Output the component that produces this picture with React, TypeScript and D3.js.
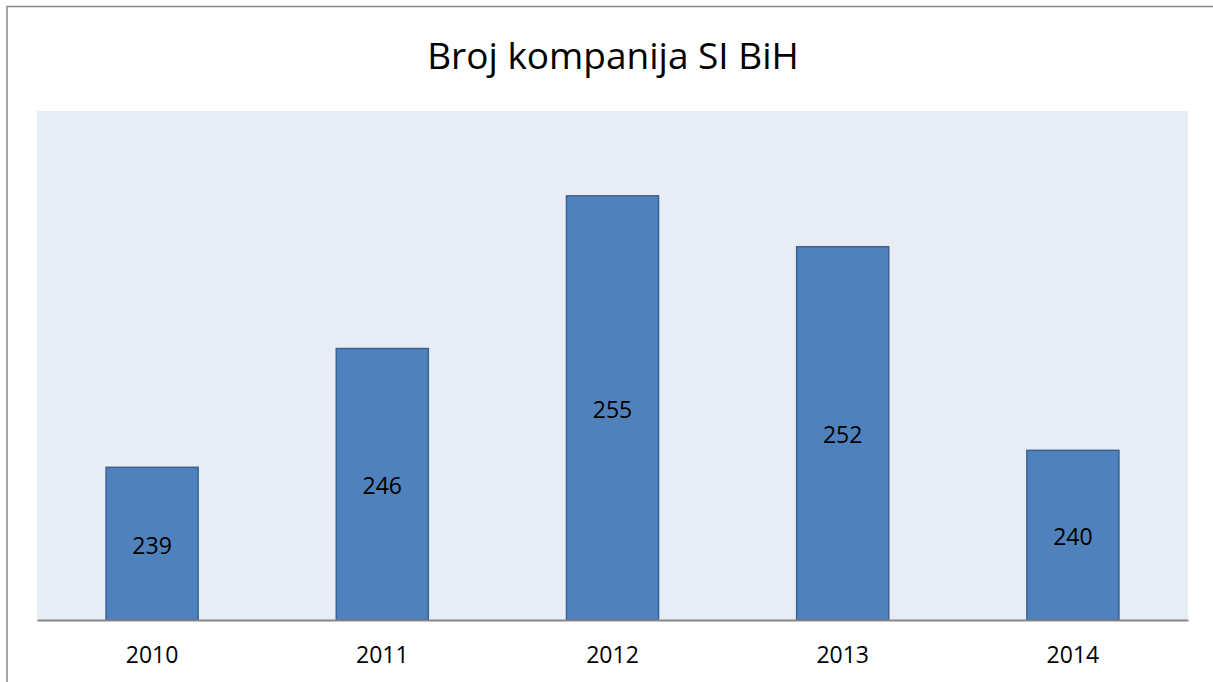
import { useEffect, useRef } from 'react';
import * as d3 from 'd3';

const years = ['2010', '2011', '2012', '2013', '2014'];
const companies = [239, 246, 255, 252, 240];
const title = 'Broj kompanija SI BiH';

export default function App() {
  const svgRef = useRef<SVGSVGElement>(null);

  useEffect(() => {
    if (!svgRef.current) return;
    const svg = d3.select(svgRef.current);
    svg.selectAll('*').remove();

    const W = 1213;
    const H = 682;
    const plot = { left: 37, right: 1188, top: 111, bottom: 620 };
    const font = '"Open Sans", "Noto Sans", sans-serif';

    svg.append('rect').attr('width', W).attr('height', H).attr('fill', '#fff');

    // outer chart border (only top and left fall inside the picture)
    svg
      .append('path')
      .attr('d', `M7,${H} V6.5 H${W}`)
      .attr('fill', 'none')
      .attr('stroke', '#868686')
      .attr('stroke-width', 1.5);

    svg
      .append('text')
      .attr('x', 613)
      .attr('y', 69)
      .attr('text-anchor', 'middle')
      .style('font-family', font)
      .style('font-size', '37px')
      .attr('fill', '#000')
      .text(title);

    svg
      .append('rect')
      .attr('x', plot.left)
      .attr('y', plot.top)
      .attr('width', plot.right - plot.left)
      .attr('height', plot.bottom - plot.top)
      .attr('fill', '#E8ECF4');

    const x = d3
      .scaleBand()
      .domain(years)
      .range([plot.left, plot.right])
      .paddingInner(0.6)
      .paddingOuter(0.3);

    const y = d3.scaleLinear().domain([230, 260]).range([plot.bottom, plot.top]);

    const data = years.map((yr, i) => ({ yr, v: companies[i] }));

    svg
      .selectAll('.bar')
      .data(data)
      .enter()
      .append('rect')
      .attr('class', 'bar')
      .attr('x', d => x(d.yr)!)
      .attr('y', d => y(d.v))
      .attr('width', x.bandwidth())
      .attr('height', d => plot.bottom - y(d.v))
      .attr('fill', '#4F81BD')
      .attr('stroke', '#3A6391')
      .attr('stroke-width', 1.5);

    svg
      .selectAll('.val')
      .data(data)
      .enter()
      .append('text')
      .attr('class', 'val')
      .attr('x', d => x(d.yr)! + x.bandwidth() / 2)
      .attr('y', d => (y(d.v) + plot.bottom) / 2 + 2)
      .attr('dy', '0.35em')
      .attr('text-anchor', 'middle')
      .style('font-family', font)
      .style('font-size', '23px')
      .attr('fill', '#000')
      .text(d => d.v);

    // x axis line and labels
    const axis = svg
      .append('g')
      .attr('transform', `translate(0,${plot.bottom})`)
      .call(d3.axisBottom(x).tickSize(0).tickPadding(27));
    axis.select('.domain').attr('stroke', '#868686').attr('stroke-width', 2);
    axis
      .selectAll('text')
      .style('font-family', font)
      .style('font-size', '23px')
      .attr('fill', '#000');
  }, []);

  return (
    <div style={{ position: 'fixed', left: 0, top: 0 }}>
      <svg ref={svgRef} width={1213} height={682} style={{ display: 'block' }} />
    </div>
  );
}
